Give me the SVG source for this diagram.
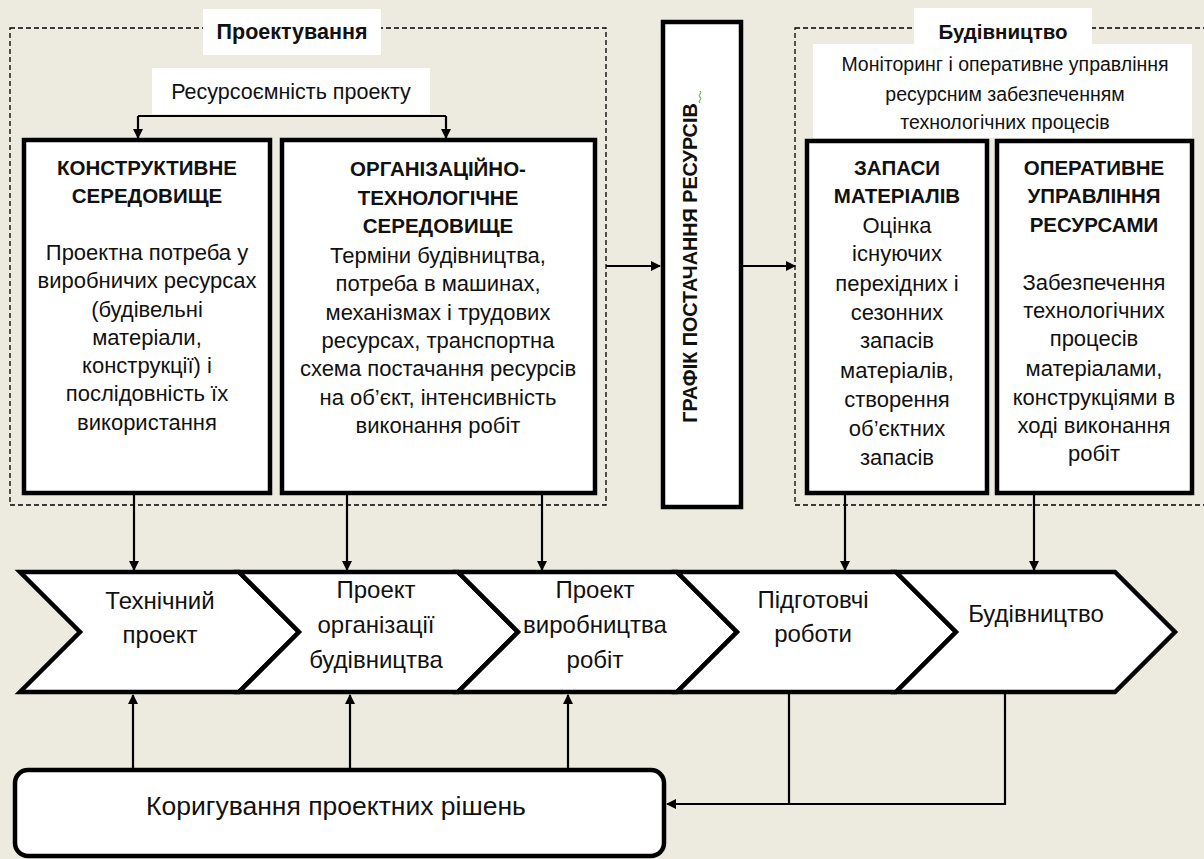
<svg xmlns="http://www.w3.org/2000/svg" width="1204" height="859" viewBox="0 0 1204 859">
<defs>
<marker id="ah" markerWidth="10" markerHeight="10" refX="9" refY="5" orient="auto" markerUnits="userSpaceOnUse">
<path d="M0,0 L10,5 L0,10 Z" fill="#000"/>
</marker>
<style>
.bg{fill:#EDEBE0}
.dash{fill:none;stroke:#000;stroke-width:1.3;stroke-dasharray:5,3}
.lbl{fill:#fff}
.box{fill:#fff;stroke:#000;stroke-width:4.5}
.chev{fill:#fff;stroke:#000;stroke-width:4.5;stroke-linejoin:miter}
.ln{fill:none;stroke:#000;stroke-width:2.2}
.t{font-family:"Liberation Sans",Arial,sans-serif;font-size:22px;fill:#111;text-anchor:middle}
.b{font-weight:bold;font-size:20.5px}
.sm{font-size:19.5px}
.lg{font-size:24px}
</style>
</defs>
<rect class="bg" x="0" y="0" width="1204" height="859"/>

<g id="proektuvannia">
<rect class="dash" x="10" y="28" width="596" height="477"/>
<rect class="lbl" x="203" y="9" width="178" height="46"/>
<text class="t b" style="font-size:21.5px" x="292" y="39">Проектування</text>
</g>

<g id="resursoemnist">
<rect class="lbl" x="152" y="68" width="278" height="46"/>
<text class="t" style="font-size:21.5px" x="291" y="99">Ресурсоємність проекту</text>
</g>

<g id="budivnytstvo-group">
<rect class="dash" x="795" y="28" width="420" height="477"/>
<rect class="lbl" x="914" y="8" width="178" height="40"/>
<text class="t b" x="1003" y="39">Будівництво</text>
<rect class="lbl" x="813" y="44" width="379" height="94"/>
<text class="t sm" x="1005" y="71">Моніторинг і оперативне управління</text>
<text class="t sm" x="1005" y="101">ресурсним забезпеченням</text>
<text class="t sm" x="1005" y="129">технологічних процесів</text>
</g>

<g id="konstruktyvne">
<rect class="box" x="24" y="140" width="246" height="353"/>
<text class="t b" x="147" y="175">КОНСТРУКТИВНЕ</text>
<text class="t b" x="147" y="203">СЕРЕДОВИЩЕ</text>
<text class="t" x="147" y="260">Проектна потреба у</text>
<text class="t" x="147" y="288">виробничих ресурсах</text>
<text class="t" x="147" y="317">(будівельні</text>
<text class="t" x="147" y="345">матеріали,</text>
<text class="t" x="147" y="373">конструкції) і</text>
<text class="t" x="147" y="401">послідовність їх</text>
<text class="t" x="147" y="430">використання</text>
</g>

<g id="org-tekh">
<rect class="box" x="282" y="140" width="313" height="353"/>
<text class="t b" x="438" y="176">ОРГАНІЗАЦІЙНО-</text>
<text class="t b" x="438" y="205">ТЕХНОЛОГІЧНЕ</text>
<text class="t b" x="438" y="233">СЕРЕДОВИЩЕ</text>
<text class="t" x="438" y="263">Терміни будівництва,</text>
<text class="t" x="438" y="291">потреба в машинах,</text>
<text class="t" x="438" y="320">механізмах і трудових</text>
<text class="t" x="438" y="348">ресурсах, транспортна</text>
<text class="t" x="438" y="376">схема постачання ресурсів</text>
<text class="t" x="438" y="405">на об’єкт, інтенсивність</text>
<text class="t" x="438" y="433">виконання робіт</text>
</g>

<g id="grafik">
<rect class="box" x="663" y="22" width="78" height="485"/>
<text class="t b" style="font-size:19.8px" transform="translate(697,263) rotate(-90)" x="0" y="0">ГРАФІК ПОСТАЧАННЯ РЕСУРСІВ</text>
<path d="M700,91 q1.5,1.5 0,3 q-1.5,1.5 0,3 q1.5,1.5 0,3 q-1.5,1.5 0,3" fill="none" stroke="#3a3" stroke-width="1"/>
</g>

<g id="zapasy">
<rect class="box" x="807" y="141" width="180" height="352"/>
<text class="t b" x="897" y="175">ЗАПАСИ</text>
<text class="t b" x="897" y="203">МАТЕРІАЛІВ</text>
<text class="t" x="897" y="233">Оцінка</text>
<text class="t" x="897" y="261">існуючих</text>
<text class="t" x="897" y="291">перехідних і</text>
<text class="t" x="897" y="320">сезонних</text>
<text class="t" x="897" y="348">запасів</text>
<text class="t" x="897" y="378">матеріалів,</text>
<text class="t" x="897" y="407">створення</text>
<text class="t" x="897" y="436">об’єктних</text>
<text class="t" x="897" y="465">запасів</text>
</g>

<g id="operatyvne">
<rect class="box" x="997" y="141" width="195" height="352"/>
<text class="t b" x="1094" y="175">ОПЕРАТИВНЕ</text>
<text class="t b" x="1094" y="203">УПРАВЛІННЯ</text>
<text class="t b" x="1094" y="232">РЕСУРСАМИ</text>
<text class="t" x="1094" y="290">Забезпечення</text>
<text class="t" x="1094" y="318">технологічних</text>
<text class="t" x="1094" y="346">процесів</text>
<text class="t" x="1094" y="376">матеріалами,</text>
<text class="t" x="1094" y="405">конструкціями в</text>
<text class="t" x="1094" y="433">ході виконання</text>
<text class="t" x="1094" y="461">робіт</text>
</g>

<g id="ch1">
<polygon class="chev" points="20,572 239,572 299,632 239,692 20,692 80,632"/>
<text class="t lg" x="160" y="609">Технічний</text>
<text class="t lg" x="160" y="643">проект</text>
</g>
<g id="ch2">
<polygon class="chev" points="239,572 458,572 518,632 458,692 239,692 299,632"/>
<text class="t lg" x="376" y="598">Проект</text>
<text class="t lg" x="376" y="633">організації</text>
<text class="t lg" x="376" y="668">будівництва</text>
</g>
<g id="ch3">
<polygon class="chev" points="458,572 677,572 737,632 677,692 458,692 518,632"/>
<text class="t lg" x="595" y="598">Проект</text>
<text class="t lg" x="595" y="633">виробництва</text>
<text class="t lg" x="595" y="668">робіт</text>
</g>
<g id="ch4">
<polygon class="chev" points="677,572 896,572 956,632 896,692 677,692 737,632"/>
<text class="t lg" x="813" y="608">Підготовчі</text>
<text class="t lg" x="813" y="642">роботи</text>
</g>
<g id="ch5">
<polygon class="chev" points="896,572 1115,572 1175,632 1115,692 896,692 956,632"/>
<text class="t lg" x="1036" y="622">Будівництво</text>
</g>

<g id="koryguvannia">
<rect x="15" y="770" width="649" height="86" rx="13" ry="13" fill="#fff" stroke="#000" stroke-width="4.5"/>
<text class="t" style="font-size:26.5px" x="336" y="815">Коригування проектних рішень</text>
</g>

<g id="connectors">
<path class="ln" d="M138,116 H446"/>
<path class="ln" d="M138,116 V138" marker-end="url(#ah)"/>
<path class="ln" d="M446,116 V138" marker-end="url(#ah)"/>
<path class="ln" d="M606,266 H660" marker-end="url(#ah)"/>
<path class="ln" d="M743,266 H795" marker-end="url(#ah)"/>
<path class="ln" d="M134,495 V570" marker-end="url(#ah)"/>
<path class="ln" d="M347,495 V570" marker-end="url(#ah)"/>
<path class="ln" d="M542,495 V570" marker-end="url(#ah)"/>
<path class="ln" d="M845,495 V570" marker-end="url(#ah)"/>
<path class="ln" d="M1034,495 V570" marker-end="url(#ah)"/>
<path class="ln" d="M133,768 V695" marker-end="url(#ah)"/>
<path class="ln" d="M350,768 V695" marker-end="url(#ah)"/>
<path class="ln" d="M568,768 V695" marker-end="url(#ah)"/>
<path class="ln" d="M789,694 V804 M1005,694 V804 H789"/>
<path class="ln" d="M789,804 H667" marker-end="url(#ah)"/>
</g>
</svg>
